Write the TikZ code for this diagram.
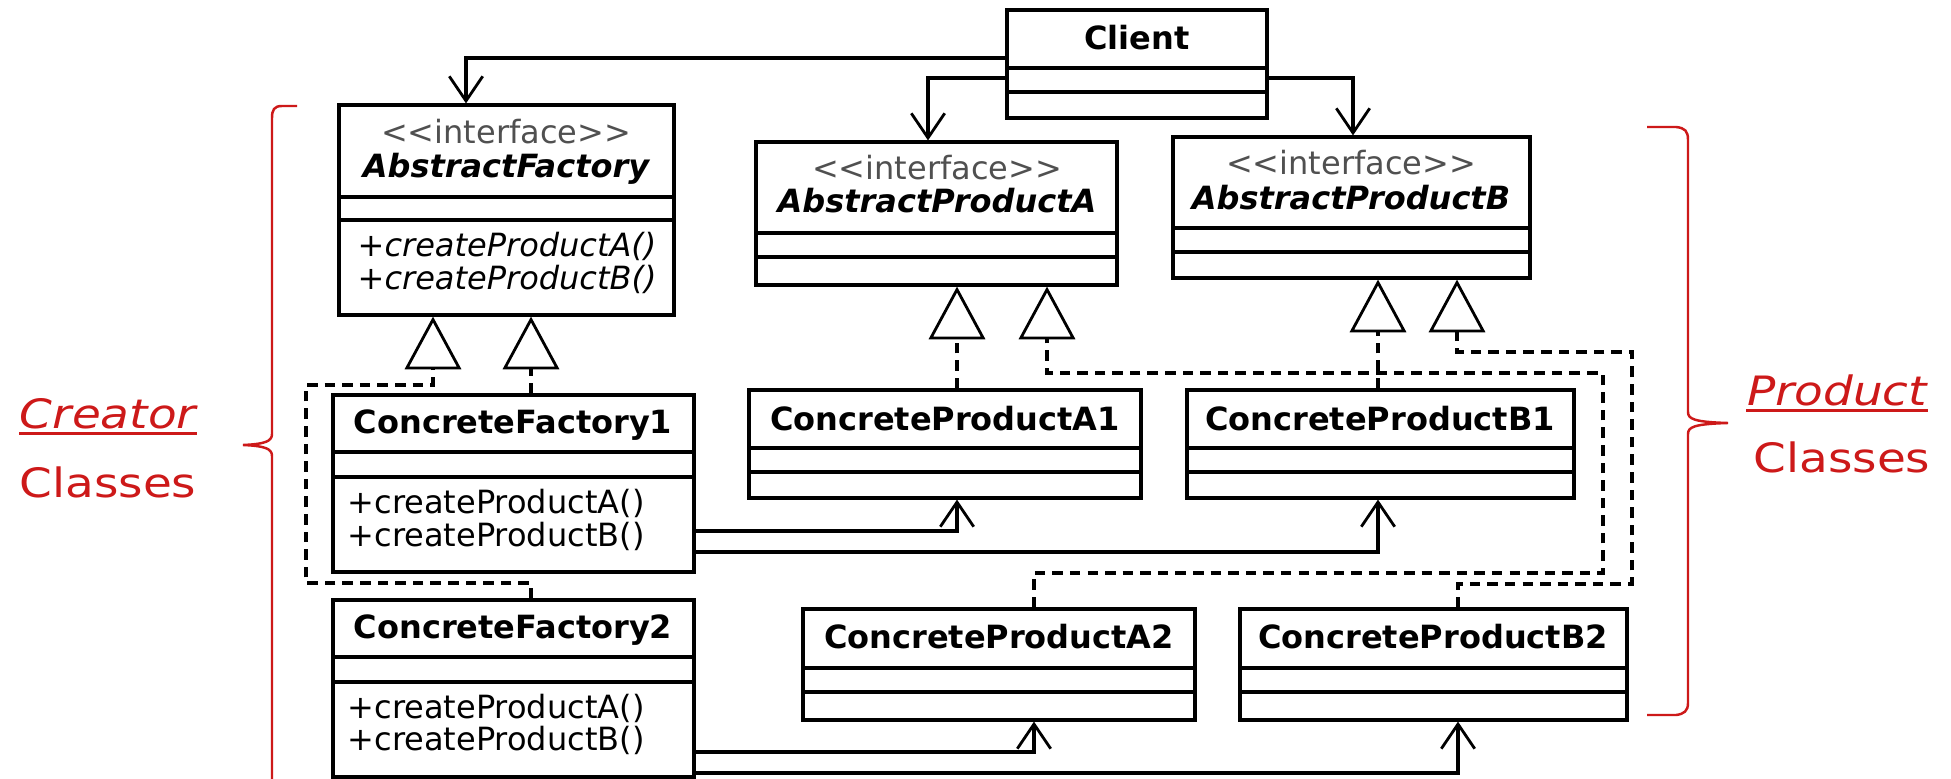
\documentclass[tikz,border=0pt]{standalone}
\usepackage{fontspec}
\setmainfont{DejaVu Sans}
\newfontfamily\handfont[FakeStretch=1.16]{DejaVu Sans}
\usetikzlibrary{arrows.meta,fit}

\definecolor{inkred}{RGB}{205,25,25}
\definecolor{stereogray}{RGB}{80,80,80}

\begin{document}
\begin{tikzpicture}[x=0.01cm,y=-0.01cm,
  cls/.style={draw=black, line width=0.9pt, fill=white, inner sep=0pt},
  compart/.style={line width=0.9pt},
  uml/.style={font=\fontsize{9.1}{11}\selectfont, inner sep=0pt},
  cname/.style={uml, font=\fontsize{9.1}{11}\selectfont\bfseries, anchor=base},
  stereo/.style={uml, text=stereogray, anchor=base},
  aname/.style={uml, font=\fontsize{9.1}{11}\selectfont\bfseries\itshape, anchor=base},
  op/.style={uml, anchor=base west},
  aop/.style={uml, font=\fontsize{9.1}{11}\selectfont\itshape, anchor=base west},
  uses/.style={line width=0.9pt, -{Straight Barb[length=7pt,width=9.5pt,line width=0.8pt]}},
  realizes/.style={line width=0.9pt, dash pattern=on 3pt off 2pt,
    -{Triangle[length=15pt,width=16pt,fill=white,line width=0.8pt]}},
  redbrace/.style={draw=inkred, line width=0.7pt},
  handlabel/.style={font=\handfont\fontsize{11.5}{13}\selectfont, text=inkred, anchor=base, inner sep=0pt},
]
\useasboundingbox (0,0) rectangle (1951,779);
\fill[white] (0,0) rectangle (1951,779);

% ---------- class boxes ----------
\node[cls, fit={(1007,10) (1267,118)}] (client) {};
\draw[compart] (1007,68) -- (1267,68) (1007,92) -- (1267,92);
\node[cname] (clientname) at (1137,50) {Client};

\node[cls, fit={(339,105) (674,315)}] (af) {};
\draw[compart] (339,197) -- (674,197) (339,220) -- (674,220);
\node[stereo] (afst) at (506,144) {<{}<interface>{}>};
\node[aname] (afname) at (506,178) {AbstractFactory};
\node[aop] (afopa) at (357,257) {+createProductA()};
\node[aop] (afopb) at (357,289) {+createProductB()};

\node[cls, fit={(756,142) (1117,285)}] (apa) {};
\draw[compart] (756,233) -- (1117,233) (756,257) -- (1117,257);
\node[stereo] (apast) at (937,180) {<{}<interface>{}>};
\node[aname] (apaname) at (937,213) {AbstractProductA};

\node[cls, fit={(1173,137) (1530,278)}] (apb) {};
\draw[compart] (1173,228) -- (1530,228) (1173,252) -- (1530,252);
\node[stereo] (apbst) at (1351,175) {<{}<interface>{}>};
\node[aname] (apbname) at (1351,210) {AbstractProductB};

\node[cls, fit={(333,395) (694,572)}] (cf1) {};
\draw[compart] (333,452) -- (694,452) (333,477) -- (694,477);
\node[cname] (cf1name) at (513,433) {ConcreteFactory1};
\node[op] (cf1opa) at (347,513) {+createProductA()};
\node[op] (cf1opb) at (347,546) {+createProductB()};

\node[cls, fit={(333,600) (694,777)}] (cf2) {};
\draw[compart] (333,657) -- (694,657) (333,682) -- (694,682);
\node[cname] (cf2name) at (513,638) {ConcreteFactory2};
\node[op] (cf2opa) at (347,718) {+createProductA()};
\node[op] (cf2opb) at (347,750) {+createProductB()};

\node[cls, fit={(749,390) (1141,498)}] (cpa1) {};
\draw[compart] (749,448) -- (1141,448) (749,472) -- (1141,472);
\node[cname] (cpa1name) at (945,430) {ConcreteProductA1};

\node[cls, fit={(1187,390) (1574,498)}] (cpb1) {};
\draw[compart] (1187,448) -- (1574,448) (1187,472) -- (1574,472);
\node[cname] (cpb1name) at (1380,430) {ConcreteProductB1};

\node[cls, fit={(803,609) (1195,720)}] (cpa2) {};
\draw[compart] (803,668) -- (1195,668) (803,692) -- (1195,692);
\node[cname] (cpa2name) at (999,648) {ConcreteProductA2};

\node[cls, fit={(1240,609) (1627,720)}] (cpb2) {};
\draw[compart] (1240,668) -- (1627,668) (1240,692) -- (1627,692);
\node[cname] (cpb2name) at (1433,648) {ConcreteProductB2};

% ---------- client dependencies ----------
\draw[uses] (client.west |- 0,58) -| (af.north -| 466,0);
\draw[uses] (client.west |- 0,78) -| (apa.north -| 928,0);
\draw[uses] (client.east |- 0,78) -| (apb.north -| 1353,0);

% ---------- realizations ----------
\draw[realizes] (cf1.north -| 531,0) -- (af.south -| 531,0);
\draw[realizes] (cf2.north -| 531,0) |- (306,583) |- (433,385) -- (af.south -| 433,0);
\draw[realizes] (cpa1.north -| 957,0) -- (apa.south -| 957,0);
\draw[realizes] (cpb1.north -| 1378,0) -- (apb.south -| 1378,0);
\draw[realizes] (cpa2.north -| 1034,0) |- (1603,573) |- (1047,373) -- (apa.south -| 1047,0);
\draw[realizes] (cpb2.north -| 1458,0) |- (1632,584) |- (1457,352) -- (apb.south -| 1457,0);

% ---------- factory -> product dependencies ----------
\draw[uses] (cf1.east |- 0,531) -| (cpa1.south -| 957,0);
\draw[uses] (cf1.east |- 0,552) -| (cpb1.south -| 1378,0);
\draw[uses] (cf2.east |- 0,752) -| (cpa2.south -| 1034,0);
\draw[uses] (cf2.east |- 0,773) -| (cpb2.south -| 1458,0);

% ---------- group braces ----------
\draw[redbrace] (297,106) -- (282,106) .. controls (274,106) and (272,110) .. (272,118)
  -- (272,434) .. controls (272,441) and (266,444) .. (243,445)
  .. controls (266,446) and (272,449) .. (272,456) -- (272,790);
\draw[redbrace] (1647,127) -- (1676,127) .. controls (1685,128) and (1688,131) .. (1688,140)
  -- (1688,412) .. controls (1688,419) and (1694,422) .. (1728,423)
  .. controls (1694,424) and (1688,427) .. (1688,434)
  -- (1688,703) .. controls (1688,711) and (1684,714) .. (1676,715) -- (1647,715);

% ---------- group labels ----------
\node[handlabel, font=\handfont\fontsize{11.5}{13}\selectfont\itshape] (creator) at (108,428) {Creator};
\draw[inkred, line width=0.9pt] ([yshift=-1.6pt]creator.base west) -- ([yshift=-1.6pt]creator.base east);
\node[handlabel] (creatorcls) at (108,497) {Classes};
\node[handlabel, font=\handfont\fontsize{11.5}{13}\selectfont\itshape] (product) at (1837,405) {Product};
\draw[inkred, line width=0.9pt] ([yshift=-1.6pt]product.base west) -- ([yshift=-1.6pt]product.base east);
\node[handlabel] (productcls) at (1842,472) {Classes};
\end{tikzpicture}
\end{document}
